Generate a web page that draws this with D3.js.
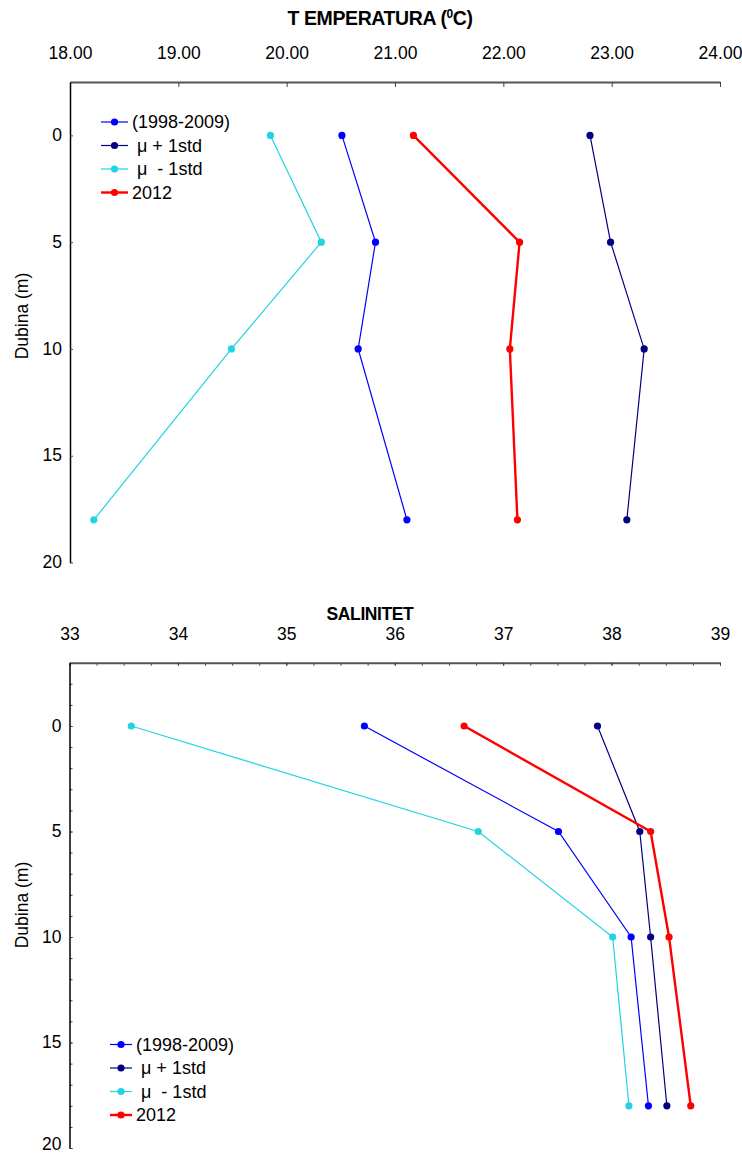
<!DOCTYPE html>
<html>
<head>
<meta charset="utf-8">
<script src="https://cdn.jsdelivr.net/npm/d3@7"></script>
<style>
  body { margin: 0; background: #fff; }
  text { font-family: "Liberation Sans", Arial, sans-serif; }
</style>
</head>
<body>
<div id="chart"></div>
<script>
// depths (m)
const depths = [0, 5, 10, 18]

// temperature (C)
const tempMean = [20.51, 20.82, 20.66, 21.11]
const tempPlus = [22.80, 22.99, 23.30, 23.14]
const tempMinus = [19.85, 20.32, 19.49, 18.22]
const temp2012 = [21.17, 22.15, 22.06, 22.13]
const tempTicks = [18, 19, 20, 21, 22, 23, 24]

// salinity
const salMean = [35.72, 37.51, 38.18, 38.34]
const salPlus = [37.87, 38.26, 38.36, 38.51]
const salMinus = [33.57, 36.77, 38.01, 38.16]
const sal2012 = [36.64, 38.36, 38.53, 38.73]
const salTicks = [33, 34, 35, 36, 37, 38, 39]

const depthTicks = [0, 5, 10, 15, 20]
const legendNames = ['(1998-2009)', ' μ + 1std', ' μ  - 1std', '2012']

const colors = ['#0000ff', '#000080', '#22d3e2', '#ff0000']
const widths = [1.2, 1.2, 1.2, 2.4]

const svg = d3.select('#chart')
  .append('svg')
  .attr('width', 742)
  .attr('height', 1155)

function drawPanel(opt) {
  let g = svg.append('g')

  let xScale = d3.scaleLinear()
    .domain(opt.xDomain)
    .range([opt.left, opt.right])

  let yScale = d3.scaleLinear()
    .domain(opt.yDomain)
    .range([opt.top, opt.bottom])

  // minor ticks first so the major ones sit over them
  if (opt.xMinor) {
    g.append('g')
      .attr('transform', `translate(0, ${opt.top})`)
      .call(d3.axisTop(xScale).tickValues(opt.xMinor).tickSizeInner(-3).tickSizeOuter(0).tickFormat(''))
      .call(a => a.select('.domain').remove())
      .selectAll('line').attr('stroke', '#444')
  }
  if (opt.yMinor) {
    g.append('g')
      .attr('transform', `translate(${opt.left}, 0)`)
      .call(d3.axisLeft(yScale).tickValues(opt.yMinor).tickSizeInner(-3).tickSizeOuter(0).tickFormat(''))
      .call(a => a.select('.domain').remove())
      .selectAll('line').attr('stroke', '#444')
  }

  let xAxis = g.append('g')
    .attr('transform', `translate(0, ${opt.top})`)
    .call(
      d3.axisTop(xScale)
        .tickValues(opt.xTicks)
        .tickSizeInner(opt.xTickLen)
        .tickSizeOuter(0)
        .tickPadding(23)
        .tickFormat(opt.xFormat)
    )
  xAxis.select('.domain').attr('stroke', '#555').attr('stroke-width', 2)
  xAxis.selectAll('.tick line').attr('stroke', '#444')
  xAxis.selectAll('text').attr('font-size', 17.5).attr('fill', '#000')

  let yAxis = g.append('g')
    .attr('transform', `translate(${opt.left}, 0)`)
    .call(
      d3.axisLeft(yScale)
        .tickValues(depthTicks)
        .tickSizeInner(-3)
        .tickSizeOuter(0)
        .tickPadding(8)
    )
  yAxis.select('.domain').attr('stroke', '#000').attr('stroke-width', 1.5)
  yAxis.selectAll('.tick line').attr('stroke', '#444')
  yAxis.selectAll('text')
    .attr('font-size', 17.5)
    .attr('fill', '#000')
    .attr('dy', d => (opt.lastUp && d === 20) ? '0.1em' : '0.3em')

  // axis titles
  let title = g.append('text')
    .attr('x', opt.titleX)
    .attr('y', opt.titleY)
    .attr('text-anchor', 'middle')
    .attr('font-size', opt.titleSize)
    .attr('font-weight', 'bold')
    .attr('letter-spacing', -0.4)
  title.append('tspan').text(opt.title)
  if (opt.titleSup) {
    title.append('tspan').attr('font-size', 12).attr('dy', -7).text(opt.titleSup)
    title.append('tspan').attr('dy', 7).text(opt.titleEnd)
  }

  g.append('text')
    .attr('transform', `translate(28, ${opt.yTitleY}) rotate(-90)`)
    .attr('text-anchor', 'middle')
    .attr('font-size', 17.5)
    .text('Dubina (m)')

  const line = d3.line()
    .x(d => xScale(d[0]))
    .y(d => yScale(d[1]))

  opt.series.forEach((vals, i) => {
    let pts = vals.map((v, j) => [v, depths[j]])
    g.append('path')
      .datum(pts)
      .attr('fill', 'none')
      .attr('stroke', colors[i])
      .attr('stroke-width', widths[i])
      .attr('d', line)
    g.selectAll(null)
      .data(pts)
      .enter()
      .append('circle')
      .attr('cx', d => xScale(d[0]))
      .attr('cy', d => yScale(d[1]))
      .attr('r', 3.6)
      .attr('fill', colors[i])
  })

  // legend
  let leg = g.append('g')
  legendNames.forEach((name, i) => {
    let y = opt.legY + i * opt.legStep
    leg.append('line')
      .attr('x1', opt.legX).attr('x2', opt.legX + opt.legLen)
      .attr('y1', y).attr('y2', y)
      .attr('stroke', colors[i])
      .attr('stroke-width', widths[i])
    leg.append('circle')
      .attr('cx', opt.legX + opt.legLen / 2)
      .attr('cy', y)
      .attr('r', 3.6)
      .attr('fill', colors[i])
    leg.append('text')
      .attr('x', opt.legX + opt.legLen + 4)
      .attr('y', y)
      .attr('dy', '0.35em')
      .attr('font-size', 18)
      .style('white-space', 'pre')
      .text(name)
  })
}

drawPanel({
  xDomain: [18, 24], yDomain: [-2.5, 20],
  left: 70, right: 720, top: 82, bottom: 562.5,
  xTicks: tempTicks, xTickLen: -5, xFormat: d3.format('.2f'),
  title: 'T EMPERATURA (', titleSup: '0', titleEnd: 'C)', titleX: 380, titleY: 25, titleSize: 19.5,
  yTitleY: 316,
  series: [tempMean, tempPlus, tempMinus, temp2012],
  legX: 101, legY: 122, legStep: 23.5, legLen: 27
})

drawPanel({
  xDomain: [33, 39], yDomain: [-3, 20],
  left: 69.5, right: 720, top: 662.7, bottom: 1148,
  xTicks: salTicks, xTickLen: -3, xFormat: d3.format('d'),
  xMinor: d3.range(33, 39.01, 0.25), yMinor: d3.range(-2, 20.01, 1),
  title: 'SALINITET', titleX: 370, titleY: 620, titleSize: 17.5,
  yTitleY: 905, lastUp: true,
  series: [salMean, salPlus, salMinus, sal2012],
  legX: 110, legY: 1044.5, legStep: 23.5, legLen: 22
})
</script>
</body>
</html>
